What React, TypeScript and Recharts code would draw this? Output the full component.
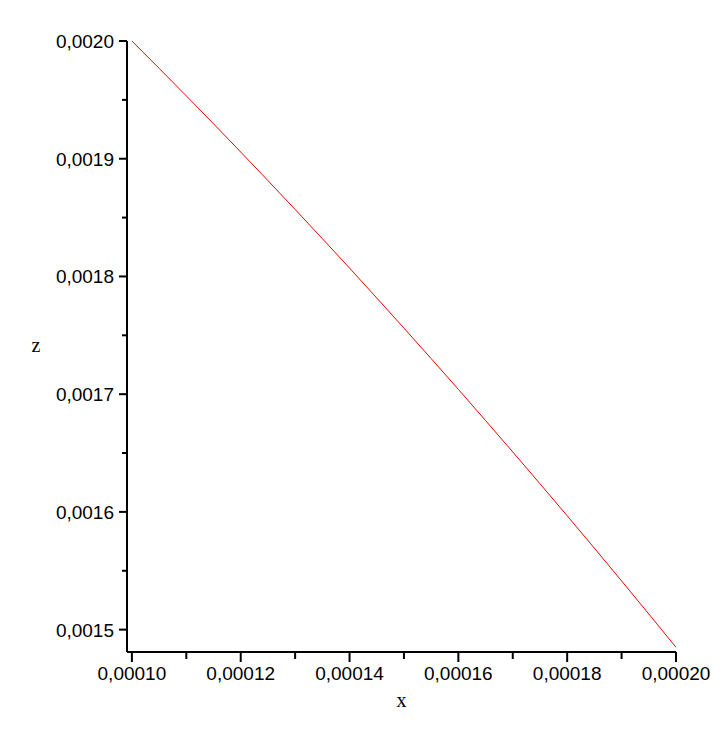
import { LineChart, Line, XAxis, YAxis } from 'recharts';

// sampled from the plotted curve
const xValues = [0.0001, 0.00011, 0.00012, 0.00013, 0.00014, 0.00015, 0.00016, 0.00017, 0.00018, 0.00019, 0.0002];
const zValues = [0.002, 0.0019534, 0.0019057, 0.0018569, 0.0018071, 0.0017561, 0.0017041, 0.0016509, 0.0015967, 0.0015414, 0.001485];

const xTicks = [0.0001, 0.00011, 0.00012, 0.00013, 0.00014, 0.00015, 0.00016, 0.00017, 0.00018, 0.00019, 0.0002];
const zTicks = [0.0015, 0.00155, 0.0016, 0.00165, 0.0017, 0.00175, 0.0018, 0.00185, 0.0019, 0.00195, 0.002];

const data = xValues.map((x, i) => ({ x, z: zValues[i] }));

const TICK_FONT = '"Liberation Sans", sans-serif';
const LABEL_FONT = '"Liberation Serif", serif';

function XTick({ x, y, payload }: any) {
  const v = payload.value;
  const major = Math.round(v * 1e5) % 2 === 0;
  if (!major) {
    return <line x1={x} y1={y} x2={x} y2={y + 7} stroke="#000" strokeWidth={2} />;
  }
  return (
    <g>
      <line x1={x} y1={y} x2={x} y2={y + 10} stroke="#000" strokeWidth={2} />
      <text x={x} y={y + 28} textAnchor="middle" fontFamily={TICK_FONT} fontSize={19} fill="#000">
        {v.toFixed(5).replace('.', ',')}
      </text>
    </g>
  );
}

function ZTick({ x, y, payload }: any) {
  const v = payload.value;
  const major = Math.round(v * 1e5) % 10 === 0;
  if (!major) {
    return <line x1={x - 5} y1={y} x2={x} y2={y} stroke="#000" strokeWidth={2} />;
  }
  return (
    <g>
      <line x1={x - 8} y1={y} x2={x} y2={y} stroke="#000" strokeWidth={2} />
      <text x={x - 13} y={y + 7} textAnchor="end" fontFamily={TICK_FONT} fontSize={19} fill="#000">
        {v.toFixed(4).replace('.', ',')}
      </text>
    </g>
  );
}

export default function App() {
  return (
    <LineChart width={710} height={720} data={data} margin={{ top: 33, right: 42, left: 0, bottom: 26 }}>
      <XAxis
        dataKey="x"
        type="number"
        domain={[0.0000991, 0.0002]}
        allowDataOverflow
        ticks={xTicks}
        interval={0}
        tickSize={0}
        tickMargin={0}
        tickLine={false}
        tick={<XTick />}
        height={50}
        axisLine={{ stroke: '#000', strokeWidth: 2 }}
        label={({ viewBox }: any) => (
          <text x={viewBox.x + viewBox.width / 2} y={viewBox.y + 55} textAnchor="middle" fontFamily={LABEL_FONT} fontSize={20} fill="#000">
            x
          </text>
        )}
      />
      <YAxis
        dataKey="z"
        type="number"
        domain={[0.001481, 0.002]}
        allowDataOverflow
        ticks={zTicks}
        interval={0}
        tickSize={0}
        tickMargin={0}
        tickLine={false}
        tick={<ZTick />}
        width={119}
        axisLine={{ stroke: '#000', strokeWidth: 2 }}
        label={({ viewBox }: any) => (
          <text x={viewBox.x + 28} y={viewBox.y + viewBox.height / 2 + 5} textAnchor="middle" fontFamily={LABEL_FONT} fontSize={20} fill="#000">
            z
          </text>
        )}
      />
      <Line type="monotone" dataKey="z" stroke="#ff0000" strokeWidth={1} dot={false} isAnimationActive={false} />
    </LineChart>
  );
}
